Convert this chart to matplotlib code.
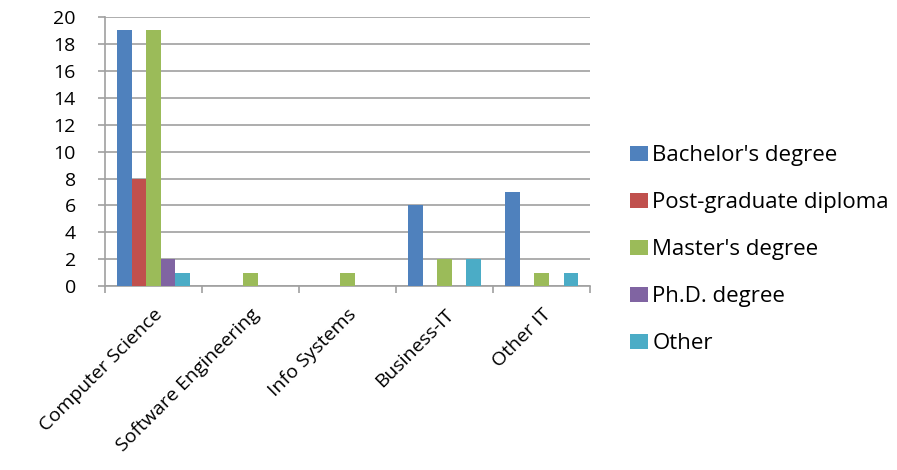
import numpy as np
import matplotlib.pyplot as plt

plt.rcParams['font.family'] = ['Open Sans', 'DejaVu Sans']

categories = ["Computer Science", "Software Engineering", "Info Systems", "Business-IT", "Other IT"]
series_names = ["Bachelor's degree", "Post-graduate diploma", "Master's degree", "Ph.D. degree", "Other"]
bachelor = [19, 0, 0, 6, 7]
postgrad = [8, 0, 0, 0, 0]
master = [19, 1, 1, 2, 1]
phd = [2, 0, 0, 0, 0]
other = [1, 0, 0, 2, 1]
colors = ["#4f81bd", "#c0504d", "#9bbb59", "#8064a2", "#4bacc6"]

fig = plt.figure(figsize=(8.97, 4.70), dpi=100)
ax = fig.add_axes([0.117, 0.391, 0.541, 0.573])

x = np.arange(len(categories))
w = 0.15
for i, (vals, name) in enumerate(zip([bachelor, postgrad, master, phd, other], series_names)):
    ax.bar(x + (i - 2) * w, vals, width=w, color=colors[i], label=name, zorder=3)

ax.set_xlim(-0.5, len(categories) - 0.5)
ax.set_ylim(0, 20)
ax.set_yticks(range(0, 21, 2))
ax.yaxis.grid(True, color="#a0a0a0", linewidth=1.2, zorder=0)
for s in ["top", "right"]:
    ax.spines[s].set_visible(False)
for s in ["left", "bottom"]:
    ax.spines[s].set_color("#a0a0a0")
    ax.spines[s].set_linewidth(1.2)

# category boundaries carry the tick marks, labels sit at the centres
ax.set_xticks(np.arange(-0.5, len(categories), 1.0))
ax.set_xticklabels([])
ax.set_xticks(x, minor=True)
ax.set_xticklabels(categories, minor=True, rotation=45, ha="right", rotation_mode="anchor", fontsize=14)
ax.tick_params(axis="x", which="minor", length=0, pad=14)
ax.tick_params(axis="x", which="major", length=5, color="#a0a0a0", width=1.2)
ax.tick_params(axis="y", length=5, color="#a0a0a0", width=1.2, labelsize=14, pad=16)

ax.legend(loc="center left", bbox_to_anchor=(1.041, 0.135), frameon=False, fontsize=16,
          handlelength=0.8, handleheight=0.7, handletextpad=0.2, labelspacing=1.17)

fig.savefig("out.png", dpi=100)
